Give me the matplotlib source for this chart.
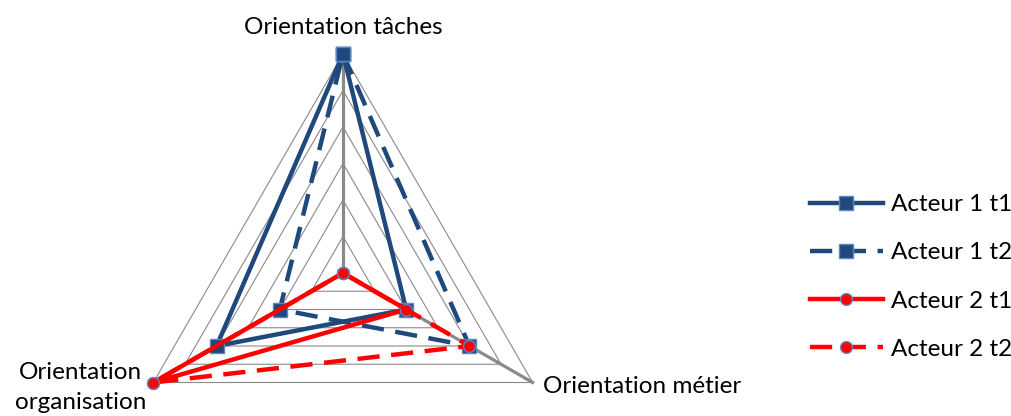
import numpy as np
import matplotlib
matplotlib.use("Agg")
import matplotlib.pyplot as plt

plt.rcParams['font.family'] = ['Lato', 'DejaVu Sans']

# Data
categories = ['Orientation tâches', 'Orientation métier', 'Orientation\norganisation']
series_names = ['Acteur 1 t1', 'Acteur 1 t2', 'Acteur 2 t1', 'Acteur 2 t2']
acteur1_t1 = [6, 2, 4]
acteur1_t2 = [6, 4, 2]
acteur2_t1 = [0, 2, 6]
acteur2_t2 = [0, 4, 6]
r_max = 6
n_levels = 6

BLUE = '#1F497D'
RED = '#FF0000'
EDGE = '#5B86C3'
GRID = '#8A8A8A'
FS = 17.5

W, H = 1012, 416
fig = plt.figure(figsize=(W / 100, H / 100), dpi=100)

# polar axes centred on (343, 273) px with radius 219 px
cx, cy, rad = 343, 273, 219
ax = fig.add_axes([(cx - rad) / W, (H - cy - rad) / H, 2 * rad / W, 2 * rad / H],
                  projection='polar')
ax.set_theta_offset(np.pi / 2)
ax.set_theta_direction(-1)
ax.set_ylim(0, r_max)
ax.axis('off')

angles = np.linspace(0, 2 * np.pi, len(categories), endpoint=False)
closed = np.append(angles, angles[0])

# triangular grid
for lvl in np.linspace(r_max / n_levels, r_max, n_levels):
    ax.plot(closed, [lvl] * len(closed), color=GRID, lw=0.8, zorder=1, clip_on=False)
for a in angles:
    ax.plot([a, a], [0, r_max], color=GRID, lw=2.3, zorder=2, clip_on=False)


def close(v):
    return list(v) + [v[0]]


styles = [
    (acteur1_t1, BLUE, '-', 's', BLUE, 9.5),
    (acteur1_t2, BLUE, (0, (5, 2.6)), 's', BLUE, 9.5),
    (acteur2_t1, RED, '-', 'o', RED, 8.5),
    (acteur2_t2, RED, (0, (5, 2.6)), 'o', RED, 8.5),
]
handles = []
for (vals, col, ls, mk, fc, ms), name in zip(styles, series_names):
    ln, = ax.plot(closed, close(vals), color=col, ls=ls, lw=3.2, marker=mk,
                  markersize=ms, markerfacecolor=fc, markeredgecolor=EDGE,
                  markeredgewidth=1.0, zorder=5, clip_on=False, label=name)
    handles.append(ln)

# category labels
offsets = [((0, 27), 'center', 'center'),
           ((10, -4), 'left', 'center'),
           ((-73, -5), 'center', 'center')]
for a, lab, (off, ha, va) in zip(angles, categories, offsets):
    ax.annotate(lab, xy=(a, r_max), xytext=off, textcoords='offset pixels',
                ha=ha, va=va, fontsize=FS, color='black',
                multialignment='center', linespacing=1.5, annotation_clip=False)

fig.legend(handles=handles, labels=series_names, loc='center left',
           bbox_to_anchor=(810 / W, (H - 277) / H), frameon=False,
           fontsize=FS, handlelength=3.0, handletextpad=0.33,
           labelspacing=1.12, borderaxespad=0, borderpad=0)

fig.savefig('out.png', dpi=100, facecolor='white')
